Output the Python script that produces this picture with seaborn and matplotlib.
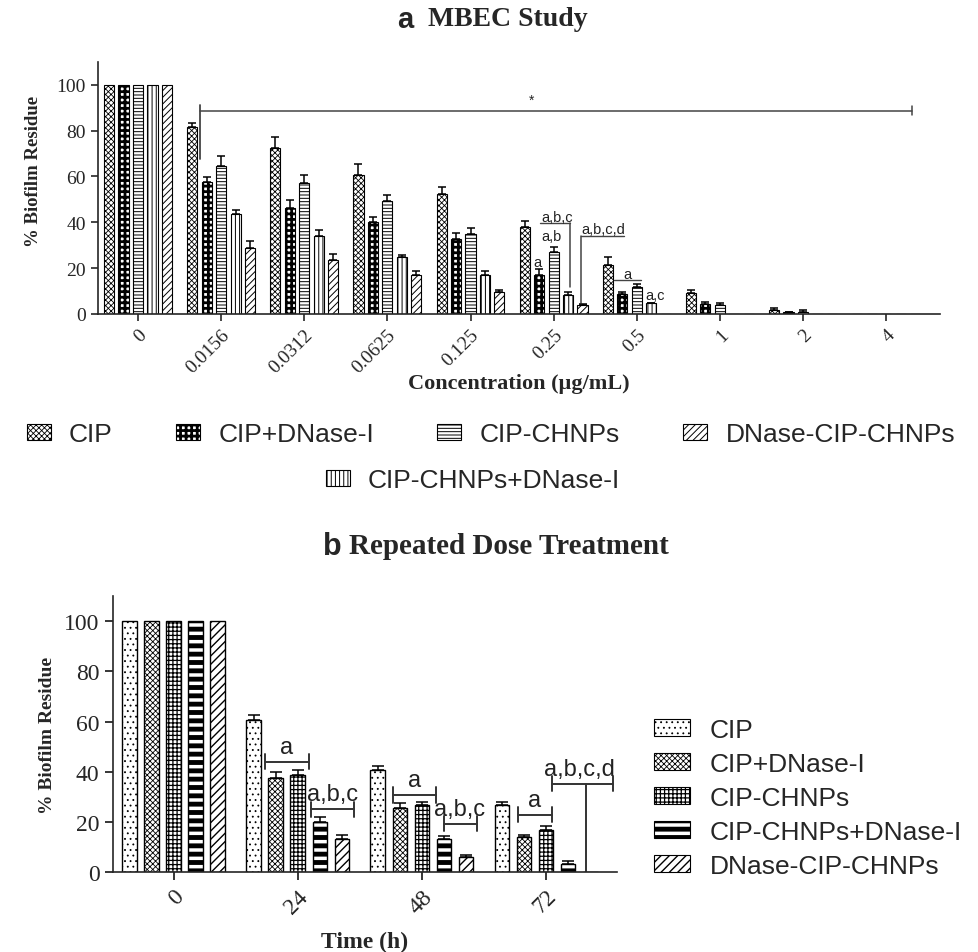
import numpy as np
import pandas as pd
import matplotlib
matplotlib.use("Agg")
import matplotlib.pyplot as plt
import seaborn as sns
from matplotlib.patches import Patch

# ---------------- data: panel a (MBEC study) ----------------
conc_labels = ['0', '0.0156', '0.0312', '0.0625', '0.125', '0.25', '0.5', '1', '2', '4']
a_groups = ['CIP', 'CIP+DNase-I', 'CIP-CHNPs', 'CIP-CHNPs+DNase-I', 'DNase-CIP-CHNPs']
a_cip = [100, 81.5, 72.5, 60.8, 52.4, 38.1, 21.4, 9.0, 1.9, 0]
a_cip_err = [0, 1.8, 4.7, 4.4, 2.9, 2.5, 3.4, 1.6, 0.7, 0]
a_cip_dnase = [100, 57.5, 46.3, 40.3, 32.6, 17.0, 8.7, 4.4, 0.7, 0]
a_cip_dnase_err = [0, 2.2, 3.2, 1.9, 2.6, 2.7, 0.8, 1.0, 0.3, 0]
a_chnps = [100, 64.5, 56.9, 49.2, 34.9, 26.9, 11.6, 4.1, 1.0, 0]
a_chnps_err = [0, 4.4, 3.5, 2.5, 2.4, 2.2, 1.5, 0.8, 0.6, 0]
a_chnps_dnase = [100, 43.7, 34.2, 25.0, 17.2, 8.4, 4.7, 0, 0, 0]
a_chnps_dnase_err = [0, 1.8, 2.2, 0.9, 1.4, 1.3, 0.3, 0, 0, 0]
a_dnase_chnps = [100, 28.8, 23.7, 16.9, 9.5, 3.9, 0, 0, 0, 0]
a_dnase_chnps_err = [0, 2.8, 2.5, 2.0, 1.1, 0.3, 0, 0, 0, 0]
a_legend_row1 = ['CIP', 'CIP+DNase-I', 'CIP-CHNPs', 'DNase-CIP-CHNPs']
a_legend_row2 = ['CIP-CHNPs+DNase-I']

# ---------------- data: panel b (repeated dose) ----------------
time_labels = ['0', '24', '48', '72']
b_groups = ['CIP', 'CIP+DNase-I', 'CIP-CHNPs', 'CIP-CHNPs+DNase-I', 'DNase-CIP-CHNPs']
b_cip = [100, 60.5, 40.9, 27.0]
b_cip_err = [0, 2.0, 1.6, 1.2]
b_cip_dnase = [100, 37.5, 25.8, 14.2]
b_cip_dnase_err = [0, 2.6, 1.7, 0.5]
b_chnps = [100, 38.8, 26.7, 16.9]
b_chnps_err = [0, 2.0, 1.5, 1.7]
b_chnps_dnase = [100, 19.9, 13.3, 3.3]
b_chnps_dnase_err = [0, 2.3, 1.3, 1.3]
b_dnase_chnps = [100, 13.4, 6.0, 0]
b_dnase_chnps_err = [0, 1.4, 0.9, 0]

a_vals = [a_cip, a_cip_dnase, a_chnps, a_chnps_dnase, a_dnase_chnps]
a_errs = [a_cip_err, a_cip_dnase_err, a_chnps_err, a_chnps_dnase_err, a_dnase_chnps_err]
b_vals = [b_cip, b_cip_dnase, b_chnps, b_chnps_dnase, b_dnase_chnps]
b_errs = [b_cip_err, b_cip_dnase_err, b_chnps_err, b_chnps_dnase_err, b_dnase_chnps_err]

df_a = pd.DataFrame([(c, g, v) for g, vals in zip(a_groups, a_vals)
                     for c, v in zip(conc_labels, vals)], columns=['conc', 'group', 'val'])
df_b = pd.DataFrame([(t, g, v) for g, vals in zip(b_groups, b_vals)
                     for t, v in zip(time_labels, vals)], columns=['time', 'group', 'val'])

# ---------------- styles ----------------
a_hatch = {'CIP': 'xxxxxx', 'CIP+DNase-I': '+++', 'CIP-CHNPs': '-----',
           'CIP-CHNPs+DNase-I': '||||', 'DNase-CIP-CHNPs': '/////'}
a_hlw = {'CIP': 0.6, 'CIP+DNase-I': 2.0, 'CIP-CHNPs': 0.7,
         'CIP-CHNPs+DNase-I': 0.7, 'DNase-CIP-CHNPs': 0.7}
b_hatch = {'CIP': '...', 'CIP+DNase-I': 'xxxxxx', 'CIP-CHNPs': '++++',
           'CIP-CHNPs+DNase-I': '--', 'DNase-CIP-CHNPs': '////'}
b_hlw = {'CIP': 0.6, 'CIP+DNase-I': 0.6, 'CIP-CHNPs': 0.9,
         'CIP-CHNPs+DNase-I': 3.5, 'DNase-CIP-CHNPs': 1.0}

sns.set_style('ticks')
plt.rcParams['font.family'] = ['Liberation Serif', 'DejaVu Serif']
plt.rcParams['hatch.linewidth'] = 0.7
plt.rcParams['axes.linewidth'] = 1.2

SANS = ['Liberation Sans', 'DejaVu Sans']

fig = plt.figure(figsize=(9.79, 9.53), dpi=100)


def set_hlw(p, lw):
    if hasattr(p, 'set_hatch_linewidth'):
        try:
            p.set_hatch_linewidth(lw)
        except Exception:
            pass


def draw_panel(ax, df, xcol, order, groups, hatches, hlws, errs, width, gap, capsize, lw):
    pal = {g: 'white' for g in groups}
    sns.barplot(data=df, x=xcol, y='val', hue='group', order=order, hue_order=groups,
                palette=pal, saturation=1, width=width, gap=gap, edgecolor='black',
                linewidth=lw, errorbar=None, legend=False, ax=ax)
    for g, cont, err in zip(groups, ax.containers, errs):
        xs, ys = [], []
        for bar in cont:
            bar.set_hatch(hatches[g])
            bar.set_edgecolor('black')
            set_hlw(bar, hlws[g])
            xs.append(bar.get_x() + bar.get_width() / 2)
            ys.append(bar.get_height())
        xs, ys, err = np.array(xs), np.array(ys), np.array(err)
        m = err > 0
        ax.errorbar(xs[m], ys[m], yerr=[np.zeros(m.sum()), err[m]], fmt='none',
                    ecolor='black', elinewidth=1.1, capsize=capsize, capthick=1.1, zorder=3)


# ---------------- panel a ----------------
axA = fig.add_axes([0.0998, 0.6695, 0.8605, 0.2647])
draw_panel(axA, df_a, 'conc', conc_labels, a_groups, a_hatch, a_hlw, a_errs,
           0.87, 0.3, 3.0, 0.8)
axA.set_xlim(-0.485, 9.65)
axA.set_ylim(0, 110)
axA.set_yticks([0, 20, 40, 60, 80, 100])
sns.despine(ax=axA)
axA.tick_params(axis='both', length=5, width=1.2, labelsize=14)
axA.set_xticks(range(len(conc_labels)))
axA.set_xticklabels(conc_labels, rotation=45, ha='right', rotation_mode='anchor')
axA.set_xlabel('Concentration (\u00b5g/mL)', fontsize=16, fontweight='bold', labelpad=-2)
axA.set_ylabel('% Biofilm Residue', fontsize=13.5, fontweight='bold')
axA.yaxis.set_label_coords(-0.066, 0.567)

# significance marks panel a
axA.plot([0.746, 9.31], [88.6, 88.6], color='#444444', lw=1.1)
axA.plot([0.746, 0.746], [67.5, 91.0], color='#444444', lw=1.3)
axA.plot([9.31, 9.31], [86.6, 90.6], color='#444444', lw=1.1)
axA.text(4.74, 90.5, '*', fontsize=10, ha='center', va='bottom', family=SANS)
ann_kw = dict(fontsize=10.5, ha='center', va='center', family=SANS, color='#222222')
axA.text(4.80, 22.5, 'a', **ann_kw)
axA.text(4.97, 33.8, 'a,b', **ann_kw)
axA.text(5.04, 42.3, 'a,b,c', **ann_kw)
axA.plot([4.84, 5.20], [39.6, 39.6], color='#444444', lw=1.0)
axA.plot([5.20, 5.20], [39.6, 11.8], color='#444444', lw=1.1)
axA.text(5.60, 37.0, 'a,b,c,d', **ann_kw)
axA.plot([5.33, 5.85], [34.2, 34.2], color='#444444', lw=1.0)
axA.plot([5.33, 5.33], [34.2, 4.8], color='#444444', lw=1.1)
axA.text(5.89, 17.5, 'a', **ann_kw)
axA.plot([5.73, 6.05], [14.8, 14.8], color='#444444', lw=1.0)
axA.text(6.22, 8.3, 'a,c', **ann_kw)

# ---------------- panel b ----------------
axB = fig.add_axes([0.1151, 0.0836, 0.515, 0.2899])
draw_panel(axB, df_b, 'time', time_labels, b_groups, b_hatch, b_hlw, b_errs,
           0.89, 0.34, 4.5, 1.0)
axB.set_xlim(-0.49, 3.57)
axB.set_ylim(0, 110)
axB.set_yticks([0, 20, 40, 60, 80, 100])
sns.despine(ax=axB)
axB.tick_params(axis='both', length=6, width=1.3, labelsize=17)
axB.set_xticks(range(len(time_labels)))
axB.set_xticklabels(time_labels, rotation=45, ha='right', rotation_mode='anchor')
axB.set_xlabel('Time (h)', fontsize=17, fontweight='bold', labelpad=10)
axB.set_ylabel('% Biofilm Residue', fontsize=14, fontweight='bold', labelpad=6)

bann_kw = dict(fontsize=17, ha='center', va='bottom', family=SANS, color='#222222')


def bracket(ax, x0, x1, y, h=3.0, label=None, lx=None):
    ax.plot([x0, x1], [y, y], color='#333333', lw=1.4)
    ax.plot([x0, x0], [y - h, y + h], color='#333333', lw=1.4)
    ax.plot([x1, x1], [y - h, y + h], color='#333333', lw=1.4)
    if label:
        ax.text((x0 + x1) / 2 if lx is None else lx, y + 1.5, label, **bann_kw)


bracket(axB, 0.734, 1.089, 44.1, label='a')
bracket(axB, 1.11, 1.45, 25.2, label='a,b,c')
bracket(axB, 1.766, 2.113, 30.8, label='a')
bracket(axB, 2.177, 2.444, 19.3, label='a,b,c', lx=2.30)
bracket(axB, 2.77, 3.05, 22.9, label='a')
bracket(axB, 3.046, 3.54, 35.2, label='a,b,c,d', lx=3.27)
axB.plot([3.32, 3.32], [35.2, 0], color='#333333', lw=1.4)


# ---------------- legends ----------------
def handles(names, hatches):
    return [Patch(facecolor='white', edgecolor='black', hatch=hatches[n], linewidth=0.8, label=n)
            for n in names]


def fix_leg(leg, names, hlws):
    for p, n in zip(leg.get_patches(), names):
        set_hlw(p, hlws[n])


leg_prop = dict(family=SANS, size=19)
l1 = fig.legend(handles=handles(a_legend_row1, a_hatch), loc='center',
                bbox_to_anchor=(491 / 979, 1 - 435 / 953), ncol=4, frameon=False,
                prop=leg_prop, handlelength=0.9, handleheight=0.55, handletextpad=0.7,
                columnspacing=2.4)
fix_leg(l1, a_legend_row1, a_hlw)
l2 = fig.legend(handles=handles(a_legend_row2, a_hatch), loc='center',
                bbox_to_anchor=(473 / 979, 1 - 481 / 953), ncol=1, frameon=False,
                prop=leg_prop, handlelength=0.9, handleheight=0.55, handletextpad=0.7)
fix_leg(l2, a_legend_row2, a_hlw)

l3 = fig.legend(handles=handles(b_groups, b_hatch), loc='upper left',
                bbox_to_anchor=(630 / 979, 1 - 695 / 953), ncol=1, frameon=False,
                prop=dict(family=SANS, size=19), handlelength=1.36, handleheight=0.57,
                handletextpad=0.75, labelspacing=0.38)
fix_leg(l3, b_groups, b_hlw)

# ---------------- titles ----------------
fig.text(405 / 979, 1 - 20 / 953, 'a', fontsize=21, fontweight='bold', family=SANS,
         ha='center', va='center')
fig.text(428 / 979, 1 - 20 / 953, 'MBEC Study', fontsize=20, fontweight='bold',
         ha='left', va='center')
fig.text(332 / 979, 1 - 547 / 953, 'b', fontsize=22, fontweight='bold', family=SANS,
         ha='center', va='center')
fig.text(349 / 979, 1 - 547 / 953, 'Repeated Dose Treatment', fontsize=21,
         fontweight='bold', ha='left', va='center')

fig.savefig('out.png', dpi=100, facecolor='white')
